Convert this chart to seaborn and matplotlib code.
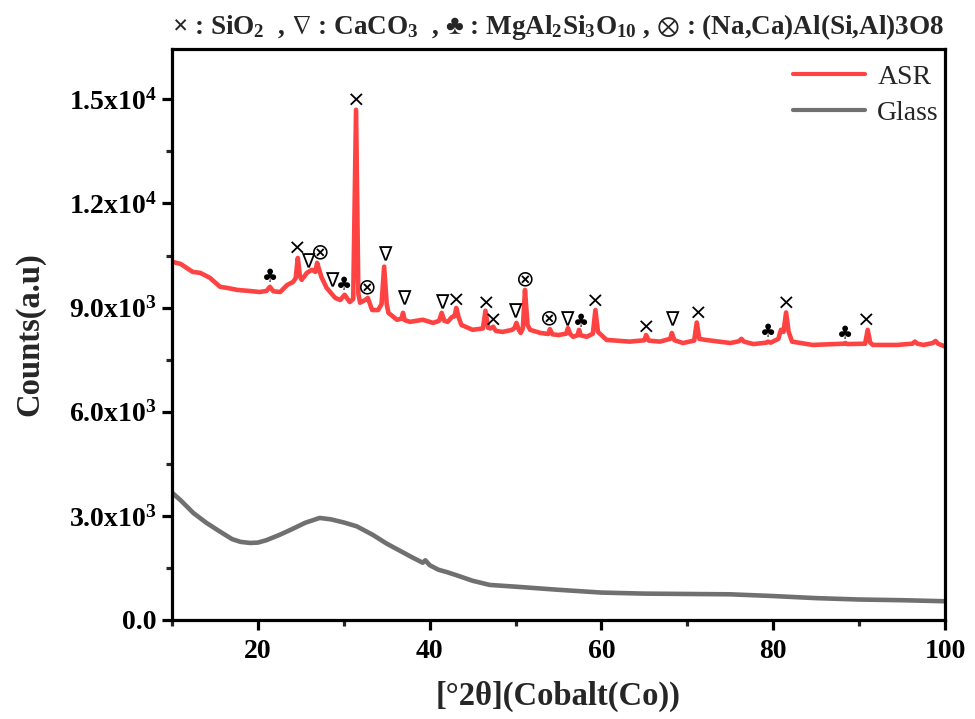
import matplotlib
matplotlib.use("Agg")
import matplotlib.pyplot as plt
import seaborn as sns
import pandas as pd
from matplotlib.ticker import MultipleLocator

# ---------------- data ----------------
asr_x = [10, 11, 12.4, 13.3, 14.4, 15.6, 16.6, 17.6, 19.0, 20.2, 21.0, 21.4, 21.8, 22.6, 23.4, 24.1,
         24.4, 24.65, 24.9, 25.1, 25.7, 26.3, 26.7, 26.9, 27.4, 28.0, 29.0, 29.6, 30.1, 30.7,
         31.1, 31.43, 31.7, 31.9, 32.5, 32.8, 33.3, 34.0, 34.4, 34.7, 35.0, 35.2, 36.2, 36.7,
         36.9, 37.1, 37.7, 39.2, 40.4, 41.1, 41.4, 41.7, 42.1, 42.6, 42.9, 43.1, 43.4, 43.7,
         45.0, 46.2, 46.5, 46.8, 47.1, 47.4, 47.7, 48.5, 49.6, 49.9, 50.1, 50.4, 50.6, 50.85,
         51.1, 51.4, 51.7, 52.9, 53.8, 54.0, 54.3, 55.0, 55.9, 56.1, 56.4, 56.7, 57.2, 57.4,
         57.6, 58.3, 59.0, 59.3, 59.6, 60.6, 63.3, 65.0, 65.2, 65.5, 66.8, 68.0, 68.2, 68.5,
         69.5, 70.8, 71.1, 71.4, 72.1, 75.0, 76.0, 76.3, 76.6, 77.7, 79.2, 79.4, 79.7, 80.6,
         80.9, 81.2, 81.5, 81.8, 82.2, 84.6, 88.2, 88.4, 88.6, 90.7, 91.0, 91.3, 91.6, 94.4,
         96.2, 96.5, 96.8, 97.5, 98.6, 98.9, 99.2, 100]
asr_y = [10320, 10260, 10030, 10000, 9860, 9600, 9560, 9510, 9480, 9450, 9480, 9600, 9470, 9450, 9650, 9740,
         9850, 10430, 9900, 9800, 10000, 10090, 10030, 10290, 9880, 9570, 9280, 9220, 9370, 9160,
         9250, 14700, 9400, 9140, 9220, 9280, 8930, 8930, 9100, 10180, 9100, 8850, 8650, 8680,
         8850, 8640, 8590, 8650, 8560, 8620, 8850, 8620, 8590, 8730, 8750, 8990, 8700, 8500,
         8360, 8400, 8910, 8420, 8400, 8450, 8330, 8300, 8360, 8420, 8560, 8350, 8270, 8400,
         9510, 8500, 8360, 8270, 8240, 8380, 8230, 8210, 8250, 8410, 8230, 8160, 8200, 8360,
         8200, 8160, 8250, 8930, 8300, 8070, 8020, 8060, 8210, 8050, 8020, 8100, 8270, 8060,
         7980, 8050, 8570, 8100, 8070, 7980, 8030, 8100, 8020, 7950, 7990, 8020, 7990, 8100,
         8360, 8300, 8860, 8300, 8020, 7925, 7960, 7980, 7950, 7960, 8360, 7990, 7925, 7925,
         7960, 8020, 7960, 7925, 7980, 8040, 7960, 7880]

glass_x = [10, 11, 12.5, 14, 15.5, 17, 18, 19.1, 20, 21, 22.5, 24, 25.5, 27.2, 28.5, 30, 31.5,
           33.4, 35, 36.5, 38, 39.2, 39.5, 40, 41, 42, 43, 45, 47, 50, 55, 60, 65, 70, 75,
           80, 85, 90, 95, 100]
glass_y = [3670, 3450, 3080, 2800, 2560, 2330, 2250, 2220, 2230, 2300, 2450, 2620, 2800, 2940,
           2900, 2810, 2700, 2450, 2200, 2000, 1800, 1650, 1720, 1580, 1450, 1380, 1300, 1130,
           1010, 960, 870, 790, 760, 750, 740, 690, 630, 590, 570, 540]

# phase markers: symbol, 2theta, counts
mark_sym = ["♣", "×", "∇", "⊗", "∇", "♣", "×", "⊗", "∇", "∇", "∇", "×", "×", "×", "∇",
            "⊗", "⊗", "∇", "♣", "×", "×", "∇", "×", "♣", "×", "♣", "×"]
mark_x = [21.4, 24.6, 25.85, 27.3, 28.65, 30.05, 31.4, 32.8, 34.8, 37.0, 41.4, 43.1, 46.6, 47.4,
          49.9, 51.1, 53.9, 55.95, 57.65, 59.3, 65.2, 68.2, 71.3, 79.4, 81.5, 88.4, 90.8]
mark_y = [9885, 10690, 10290, 10580, 9740, 9650, 14960, 9570, 10490, 9220, 9110, 9190, 9110,
          8620, 8850, 9800, 8700, 8620, 8590, 9160, 8410, 8620, 8820, 8300, 9110, 8240, 8620]

y_ticks = [0, 3000, 6000, 9000, 12000, 15000]
y_tick_labels = ["0.0", r"3.0x10$^{3}$", r"6.0x10$^{3}$", r"9.0x10$^{3}$",
                 r"1.2x10$^{4}$", r"1.5x10$^{4}$"]
x_ticks = [20, 40, 60, 80, 100]

title = (r"× : SiO$_2$  , $\nabla$ : CaCO$_3$  , ♣ : MgAl$_2$Si$_3$O$_{10}$ , "
         r"$\otimes$ : (Na,Ca)Al(Si,Al)3O8")

# ---------------- style ----------------
sns.set_theme(style="white")
plt.rcParams["font.family"] = ["Liberation Serif", "DejaVu Sans"]
plt.rcParams["mathtext.fontset"] = "custom"
plt.rcParams["mathtext.rm"] = "Liberation Serif:bold"
plt.rcParams["mathtext.it"] = "Liberation Serif:bold"
plt.rcParams["mathtext.bf"] = "Liberation Serif:bold"
plt.rcParams["mathtext.fallback"] = "stix"

df_asr = pd.DataFrame({"x": asr_x, "y": asr_y, "s": "ASR"})
df_glass = pd.DataFrame({"x": glass_x, "y": glass_y, "s": "Glass"})
df = pd.concat([df_asr, df_glass], ignore_index=True)

fig = plt.figure(figsize=(9.75, 7.19), dpi=100)
ax = fig.add_axes([0.1764, 0.1377, 0.7928, 0.7941])

sns.lineplot(data=df, x="x", y="y", hue="s", palette={"ASR": "#ff4242", "Glass": "#707070"},
             linewidth=3.3, ax=ax, sort=True, estimator=None)

sizes = {"×": 16, "∇": 14.5, "♣": 13, "⊗": 16}
for s, mx, my in zip(mark_sym, mark_x, mark_y):
    ax.text(mx, my, s, ha="center", va="center", fontsize=sizes[s],
            family=["DejaVu Sans"], color="black")

ax.set_xlim(10, 100)
ax.set_ylim(0, 16450)
ax.set_xticks(x_ticks)
ax.set_yticks(y_ticks)
ax.set_yticklabels(y_tick_labels)
ax.xaxis.set_minor_locator(MultipleLocator(10))
ax.yaxis.set_minor_locator(MultipleLocator(1500))

for sp in ax.spines.values():
    sp.set_linewidth(2.3)
    sp.set_color("black")
    sp.set_visible(True)

ax.tick_params(axis="both", which="major", direction="out", length=7, width=2.3,
               labelsize=20, colors="black", bottom=True, left=True)
ax.tick_params(axis="x", which="major", pad=7)
ax.tick_params(axis="y", which="major", pad=4)
ax.tick_params(axis="both", which="minor", direction="out", length=4.5, width=2.3,
               bottom=True, left=True)
for lab in ax.get_xticklabels() + ax.get_yticklabels():
    lab.set_fontweight("bold")

ax.set_xlabel("[°2θ](Cobalt(Co))", fontsize=23.5, fontweight="bold", labelpad=12)
ax.set_ylabel("Counts(a.u)", fontsize=23.5, fontweight="bold", labelpad=17)
ax.set_title(title, fontsize=19.5, fontweight="bold", pad=11)

leg = ax.legend(loc="upper right", bbox_to_anchor=(1.012, 1.0), frameon=False, fontsize=20,
                handlelength=2.6, borderaxespad=0.15, handletextpad=0.45, labelspacing=0.38)
for line in leg.get_lines():
    line.set_linewidth(3.0)

fig.savefig("out.png", dpi=100)
